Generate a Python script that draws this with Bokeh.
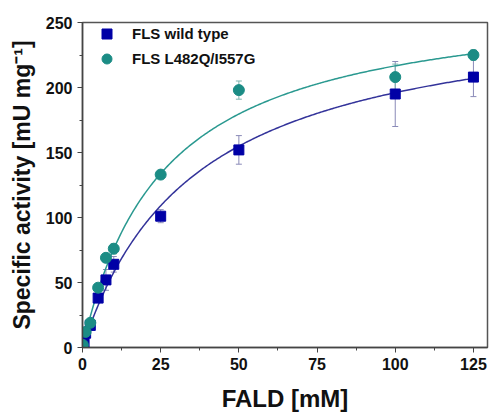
import numpy as np
from bokeh.plotting import figure
from bokeh.models import (FixedTicker, Legend, LegendItem, Whisker, ColumnDataSource, Range1d)
from bokeh.embed import file_html
from bokeh.resources import INLINE

# data
fald_wt = [0.5, 1, 2.5, 5, 7.5, 10, 25, 50, 100, 125]
act_wt = [4, 11, 17, 38, 52, 64, 101, 152, 195, 208]
err_wt = [1, 2, 3, 3, 8, 6, 5, 11, 25, 15]

fald_mut = [0.1, 1, 2.5, 5, 7.5, 10, 25, 50, 100, 125]
act_mut = [2, 12, 19, 46, 69, 76, 133, 198, 208, 225]
err_mut = [1, 2, 2, 3, 3, 4, 3, 7, 10, 4]

# Michaelis-Menten fit parameters (Vmax, Km)
fit_wt = (267.0, 36.2)
fit_mut = (273.0, 26.0)

x_ticks = [0, 25, 50, 75, 100, 125]
x_minor = [12.5, 37.5, 62.5, 87.5, 112.5]
y_ticks = [0, 50, 100, 150, 200, 250]
y_minor = [25, 75, 125, 175, 225]

labels = ["FLS wild type", "FLS L482Q/I557G"]

WT = "#0000a6"
WT_LINE = "#33339a"
MUT = "#1b8c85"
MUT_LINE = "#2a9990"
FONT = "Liberation Sans"

p = figure(frame_width=405, frame_height=325, width=489, height=414,
           x_range=Range1d(0, 129.5), y_range=Range1d(0, 250),
           output_backend="svg", toolbar_location=None,
           min_border_left=82, min_border_right=2, min_border_top=22, min_border_bottom=67)

p.xgrid.visible = False
p.ygrid.visible = False
p.outline_line_color = "#555555"
p.outline_line_width = 1.5

for ax in (p.xaxis[0], p.yaxis[0]):
    ax.axis_line_color = "#444444"
    ax.axis_line_width = 1.5
    ax.major_tick_line_color = "#444444"
    ax.minor_tick_line_color = "#444444"
    ax.major_tick_out = 5
    ax.major_tick_in = 0
    ax.minor_tick_out = 3
    ax.minor_tick_in = 0
    ax.major_label_text_font = FONT
    ax.major_label_text_font_style = "bold"
    ax.major_label_text_font_size = "16px"
    ax.major_label_text_color = "#111111"
    ax.axis_label_text_font = FONT
    ax.axis_label_text_font_style = "bold"
    ax.axis_label_text_font_size = "23px"
    ax.axis_label_text_color = "#111111"

p.xaxis.axis_label_text_font_size = "24px"
p.xaxis.ticker = FixedTicker(ticks=x_ticks, minor_ticks=x_minor)
p.yaxis.ticker = FixedTicker(ticks=y_ticks, minor_ticks=y_minor)
p.xaxis.axis_label = "FALD [mM]"
p.yaxis.axis_label = "Specific activity [mU mg⁻¹]"
p.xaxis.major_label_standoff = 5
p.yaxis.major_label_standoff = 5
p.xaxis.axis_label_standoff = 12
p.yaxis.axis_label_standoff = 8

# fitted curves
s = np.linspace(0, 125, 300)
p.line(s, fit_wt[0] * s / (fit_wt[1] + s), line_color=WT_LINE, line_width=1.5)
p.line(s, fit_mut[0] * s / (fit_mut[1] + s), line_color=MUT_LINE, line_width=1.5)

src_wt = ColumnDataSource(dict(x=fald_wt, y=act_wt,
                               lo=[a - e for a, e in zip(act_wt, err_wt)],
                               hi=[a + e for a, e in zip(act_wt, err_wt)]))
src_mut = ColumnDataSource(dict(x=fald_mut, y=act_mut,
                                lo=[a - e for a, e in zip(act_mut, err_mut)],
                                hi=[a + e for a, e in zip(act_mut, err_mut)]))

for src, col in ((src_wt, "#8a8ab8"), (src_mut, "#7fb5b0")):
    w = Whisker(source=src, base="x", lower="lo", upper="hi",
                line_color=col, line_width=1)
    w.upper_head.size = 6
    w.lower_head.size = 6
    w.upper_head.line_color = col
    w.lower_head.line_color = col
    p.add_layout(w)

r_wt = p.scatter("x", "y", source=src_wt, marker="square", size=10,
                 fill_color=WT, line_color=WT)
r_mut = p.scatter("x", "y", source=src_mut, marker="circle", size=11,
                  fill_color=MUT, line_color=MUT)

legend = Legend(items=[LegendItem(label=labels[0], renderers=[r_wt]),
                       LegendItem(label=labels[1], renderers=[r_mut])],
                location=(12, 276), padding=0, spacing=-5, margin=0,
                glyph_width=25, glyph_height=25, label_standoff=13,
                label_text_font=FONT, label_text_font_style="bold",
                label_text_font_size="15px", label_text_color="#111111",
                background_fill_alpha=0, border_line_alpha=0)
p.add_layout(legend)

open("out.html", "w").write(file_html(p, INLINE))
